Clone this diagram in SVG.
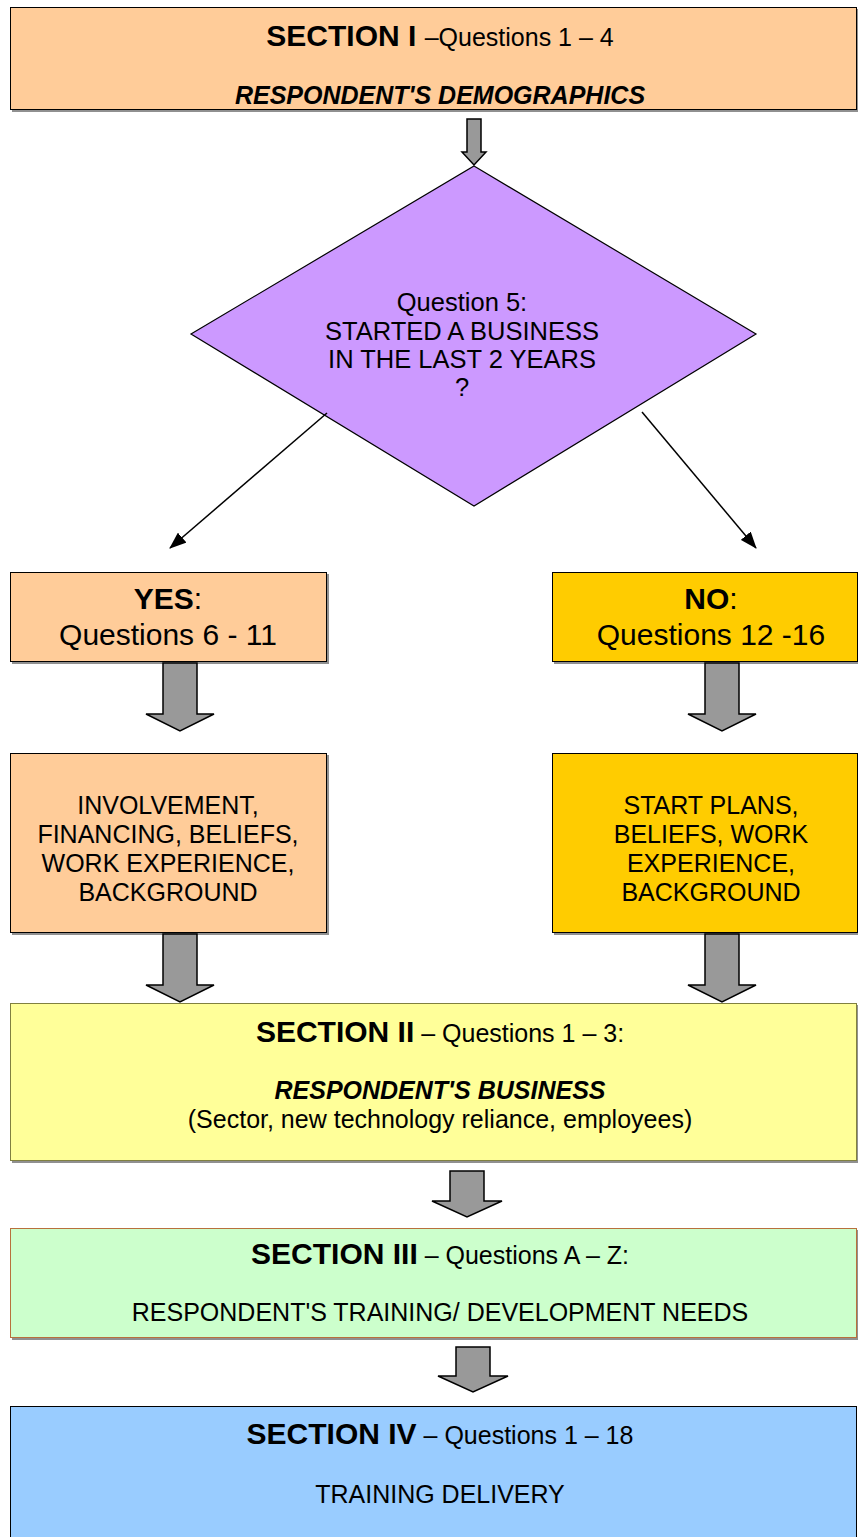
<svg xmlns="http://www.w3.org/2000/svg" width="858" height="1537" viewBox="0 0 858 1537">
<style>
text{font-family:"Liberation Sans",Arial,sans-serif;fill:#000;text-anchor:middle}
.b{font-weight:bold}
.bi{font-weight:bold;font-style:italic}
.box{stroke:#000;stroke-width:1}
.sh{fill:#909090}
.blk{fill:#999999;stroke:#000;stroke-width:1.5;stroke-linejoin:miter}
.ln{stroke:#000;stroke-width:1.5;fill:none}
</style>
<defs>
<marker id="ah" viewBox="0 0 17 13" refX="16" refY="6.5" markerWidth="17" markerHeight="13" markerUnits="userSpaceOnUse" orient="auto">
<path d="M0,0 L17,6.5 L0,13 z" fill="#000"/>
</marker>
</defs>

<g id="section1">
<rect class="sh" x="12" y="9" width="847" height="103"/>
<rect class="box" x="10.5" y="7.5" width="846" height="102" fill="#FFCC99"/>
<text x="440" y="46"><tspan class="b" font-size="30">SECTION I </tspan><tspan font-size="25">–Questions 1 – 4</tspan></text>
<text class="bi" x="440" y="104" font-size="25">RESPONDENT'S DEMOGRAPHICS</text>
</g>

<g id="question5">
<polygon points="474,166 756,334 474,506 191,334" fill="#CC99FF" stroke="#000" stroke-width="1.2"/>
<text x="462" y="311" font-size="25.5">Question 5:</text>
<text x="462" y="340" font-size="25.5">STARTED A BUSINESS</text>
<text x="462" y="368" font-size="25.5">IN THE LAST 2 YEARS</text>
<text x="462" y="396" font-size="25.5">?</text>
</g>

<g id="yes">
<rect class="sh" x="12" y="574" width="317" height="90"/>
<rect class="box" x="10.5" y="572.5" width="316" height="89" fill="#FFCC99"/>
<text x="168" y="609"><tspan class="b" font-size="30">YES</tspan><tspan font-size="30">:</tspan></text>
<text x="168" y="645" font-size="30">Questions 6 - 11</text>
</g>

<g id="no">
<rect class="sh" x="554" y="574" width="305" height="90"/>
<rect class="box" x="552.5" y="572.5" width="305" height="89" fill="#FFCC00"/>
<text x="711" y="609"><tspan class="b" font-size="30">NO</tspan><tspan font-size="30">:</tspan></text>
<text x="711" y="645" font-size="30">Questions 12 -16</text>
</g>

<g id="yesDetails">
<rect class="sh" x="12" y="755" width="317" height="180"/>
<rect class="box" x="10.5" y="753.5" width="316" height="179" fill="#FFCC99"/>
<text x="168" y="814" font-size="25">INVOLVEMENT,</text>
<text x="168" y="843" font-size="25">FINANCING, BELIEFS,</text>
<text x="168" y="872" font-size="25">WORK EXPERIENCE,</text>
<text x="168" y="901" font-size="25">BACKGROUND</text>
</g>

<g id="noDetails">
<rect class="sh" x="554" y="755" width="305" height="180"/>
<rect class="box" x="552.5" y="753.5" width="305" height="179" fill="#FFCC00"/>
<text x="711" y="814" font-size="25">START PLANS,</text>
<text x="711" y="843" font-size="25">BELIEFS, WORK</text>
<text x="711" y="872" font-size="25">EXPERIENCE,</text>
<text x="711" y="901" font-size="25">BACKGROUND</text>
</g>

<g id="section2">
<rect class="sh" x="12" y="1005" width="847" height="158"/>
<rect x="10.5" y="1003.5" width="846" height="157" fill="#FFFF99" stroke="#808040" stroke-width="1"/>
<text x="440" y="1042"><tspan class="b" font-size="30">SECTION II</tspan><tspan font-size="25"> – Questions 1 – 3:</tspan></text>
<text class="bi" x="440" y="1099" font-size="25">RESPONDENT'S BUSINESS</text>
<text x="440" y="1128" font-size="25">(Sector, new technology reliance, employees)</text>
</g>

<g id="section3">
<rect class="sh" x="12" y="1230" width="847" height="110"/>
<rect x="10.5" y="1228.5" width="846" height="109" fill="#CCFFCC" stroke="#B8703C" stroke-width="1"/>
<text x="440" y="1264"><tspan class="b" font-size="30">SECTION III</tspan><tspan font-size="25"> – Questions A – Z:</tspan></text>
<text x="440" y="1321" font-size="25">RESPONDENT'S TRAINING/ DEVELOPMENT NEEDS</text>
</g>

<g id="section4">
<rect class="box" x="10.5" y="1406.5" width="846" height="135" fill="#99CCFF"/>
<text x="440" y="1444"><tspan class="b" font-size="30">SECTION IV</tspan><tspan font-size="25"> – Questions 1 – 18</tspan></text>
<text x="440" y="1503" font-size="25">TRAINING DELIVERY</text>
</g>

<g id="connectors">
<polygon class="blk" points="467,119 481,119 481,152 486,152 474,165 462,152 467,152"/>
<line class="ln" x1="327" y1="413" x2="170" y2="548" marker-end="url(#ah)"/>
<line class="ln" x1="642" y1="412" x2="756" y2="548" marker-end="url(#ah)"/>
<polygon class="blk" points="163,663 197,663 197,714 214,714 180,731 146,714 163,714"/>
<polygon class="blk" points="705,663 739,663 739,714 756,714 722,731 688,714 705,714"/>
<polygon class="blk" points="163,934 197,934 197,985 214,985 180,1002 146,985 163,985"/>
<polygon class="blk" points="705,934 739,934 739,985 756,985 722,1002 688,985 705,985"/>
<polygon class="blk" points="450,1171 484,1171 484,1201 502,1201 467,1217 432,1201 450,1201"/>
<polygon class="blk" points="456,1347 490,1347 490,1376 508,1376 473,1392 438,1376 456,1376"/>
</g>
</svg>
